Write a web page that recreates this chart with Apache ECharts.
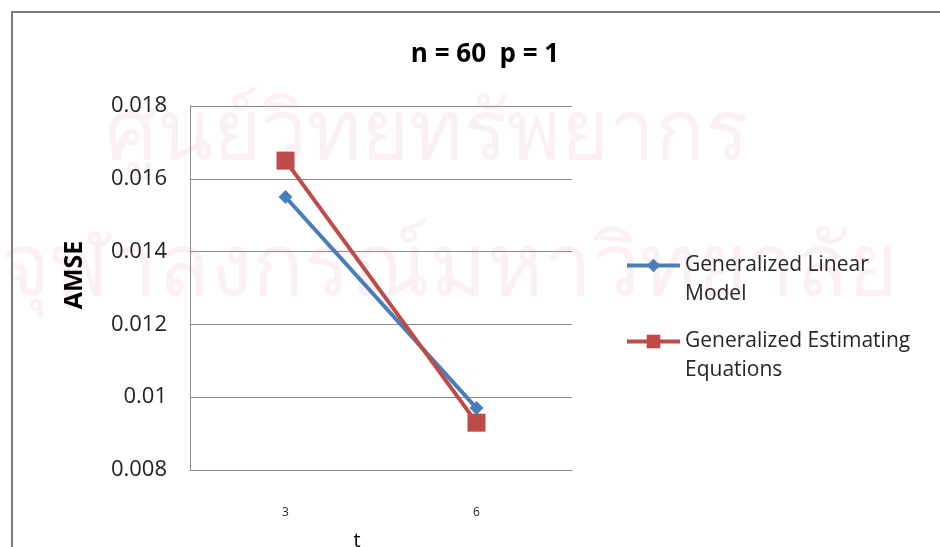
<!DOCTYPE html>
<html>
<head>
<meta charset="utf-8">
<style>
  html, body { margin: 0; padding: 0; background: #ffffff; }
  #chart { width: 940px; height: 547px; }
</style>
<script src="https://cdn.jsdelivr.net/npm/echarts@6/dist/echarts.min.js"></script>
</head>
<body>
<div id="chart"></div>
<script>
// AMSE by t, for n = 60, p = 1
const categories = ['3', '6'];
const glmValues = [0.0155, 0.0097];   // Generalized Linear Model
const geeValues = [0.0165, 0.0093];   // Generalized Estimating Equations
const seriesNames = ['Generalized Linear Model', 'Generalized Estimating Equations'];
const legendLabels = ['Generalized Linear\nModel', 'Generalized Estimating\nEquations'];
const chartTitle = 'n = 60  p = 1';
const yAxisTitle = 'AMSE';
const xAxisTitle = 't';
const watermarkLines = ['ศูนย์วิทยทรัพยากร', 'จุฬาลงกรณ์มหาวิทยาลัย'];

const FONT = '"Open Sans", Lato, sans-serif';
const BLUE = '#4a7ebb';
const RED = '#be4b48';
const GRID = '#8c8c8c';
const WATERMARK = 'rgba(205,90,140,0.085)';

const chart = echarts.init(document.getElementById('chart'), null, { renderer: 'canvas' });

const legendLabelOf = {};
seriesNames.forEach((n, i) => { legendLabelOf[n] = legendLabels[i]; });

// One legend per series; a leading blank line keeps the icon level with the first text line
function legendFor(name, top) {
  return {
    data: [name],
    orient: 'vertical',
    left: 620,
    top: top,
    itemWidth: 53,
    itemHeight: 17,
    itemGap: 0,
    lineStyle: { width: 4 },
    formatter: n => '\n' + legendLabelOf[n],
    textStyle: {
      fontFamily: FONT,
      fontSize: 21,
      color: '#262626',
      lineHeight: 29
    },
    selectedMode: false
  };
}

chart.setOption({
  backgroundColor: '#ffffff',
  animation: false,
  title: {
    text: chartTitle,
    left: 480,
    textAlign: 'center',
    top: 37,
    textStyle: { fontFamily: FONT, fontSize: 26, fontWeight: 'bold', color: '#000000' }
  },
  legend: [legendFor(seriesNames[0], 217), legendFor(seriesNames[1], 293)],
  grid: { left: 190, right: 368, top: 106, bottom: 77, outerBoundsMode: 'none', containLabel: false },
  graphic: [
    {
      type: 'group',
      z: -10,
      silent: true,
      children: [
        {
          type: 'text',
          left: 105, top: 95,
          style: { text: watermarkLines[0], fontSize: 82, fontFamily: 'sans-serif', fill: WATERMARK }
        },
        {
          type: 'text',
          left: 0, top: 228,
          style: { text: watermarkLines[1], fontSize: 86, fontFamily: 'sans-serif', fill: WATERMARK }
        }
      ]
    },
    {
      type: 'rect',
      z: 100,
      silent: true,
      shape: { x: 12, y: 12, width: 960, height: 560 },
      style: { fill: 'none', stroke: '#7a7a7a', lineWidth: 2 }
    }
  ],
  xAxis: {
    type: 'category',
    data: categories,
    boundaryGap: true,
    name: xAxisTitle,
    nameLocation: 'middle',
    nameGap: 61,
    nameTextStyle: { fontFamily: FONT, fontSize: 20, color: '#000000', padding: [0, 48, 0, 0] },
    axisLine: { lineStyle: { color: GRID, width: 1 } },
    axisTick: { show: false },
    axisLabel: { fontFamily: FONT, fontSize: 12, color: '#262626', margin: 37 }
  },
  yAxis: {
    type: 'value',
    min: 0.008,
    max: 0.018,
    interval: 0.002,
    name: yAxisTitle,
    nameLocation: 'middle',
    nameGap: 103,
    nameRotate: 90,
    nameTextStyle: { fontFamily: FONT, fontSize: 25, fontWeight: 'bold', color: '#000000', padding: [0, 0, 0, 26] },
    axisLine: { show: true, lineStyle: { color: GRID, width: 1 } },
    axisTick: { show: false },
    splitLine: { lineStyle: { color: GRID, width: 1 } },
    axisLabel: {
      fontFamily: FONT, fontSize: 22, color: '#222222', margin: 23,
      formatter: v => String(+v.toFixed(3))
    }
  },
  series: [
    {
      name: seriesNames[0],
      type: 'line',
      data: glmValues,
      symbol: 'diamond',
      symbolSize: 14,
      lineStyle: { color: BLUE, width: 4 },
      itemStyle: { color: BLUE },
      z: 2
    },
    {
      name: seriesNames[1],
      type: 'line',
      data: geeValues,
      symbol: 'rect',
      symbolSize: 18,
      lineStyle: { color: RED, width: 4 },
      itemStyle: { color: RED },
      z: 3
    }
  ]
});
</script>
</body>
</html>
